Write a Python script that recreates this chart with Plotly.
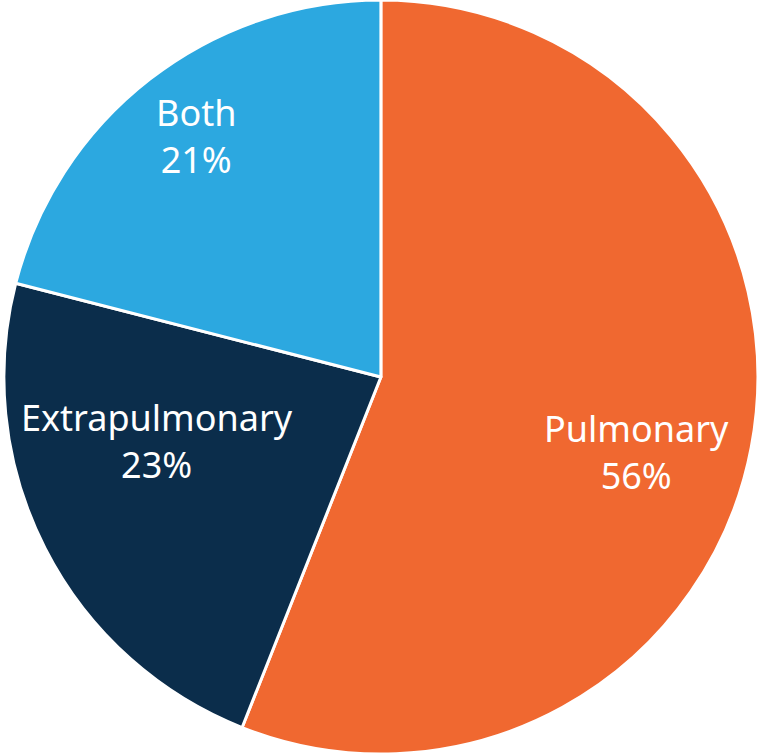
import plotly.graph_objects as go

labels = ["Pulmonary", "Extrapulmonary", "Both"]
values = [56, 23, 21]
colors = ["#F06830", "#0B2D4B", "#2CA8E0"]

# where the designer put each label (paper fractions, text block centre)
label_x = [636.5 / 758, 156.5 / 758, 196 / 758]
label_y = [1 - 452 / 754, 1 - 441 / 754, 1 - 136 / 754]

fig = go.Figure(go.Pie(
    labels=labels,
    values=values,
    sort=False,
    direction="clockwise",
    rotation=0,
    marker=dict(colors=colors, line=dict(color="white", width=3)),
    textinfo="none",
    hoverinfo="label+percent",
    showlegend=False,
    domain=dict(x=[0.005, 1], y=[0, 1]),
))

total = sum(values)
for lab, val, x, y in zip(labels, values, label_x, label_y):
    fig.add_annotation(
        x=x, y=y, xref="paper", yref="paper",
        text=f"{lab}<br>{round(100 * val / total)}%",
        showarrow=False,
        xanchor="center", yanchor="middle",
        font=dict(color="white", size=36, family="Noto Sans"),
    )

fig.update_layout(
    width=758,
    height=754,
    margin=dict(l=0, r=0, t=0, b=0),
    paper_bgcolor="white",
)

fig.write_html(
    "out.html",
    config={"displayModeBar": False},
    post_script="document.body.style.margin='0';document.body.style.overflow='hidden';",
)
